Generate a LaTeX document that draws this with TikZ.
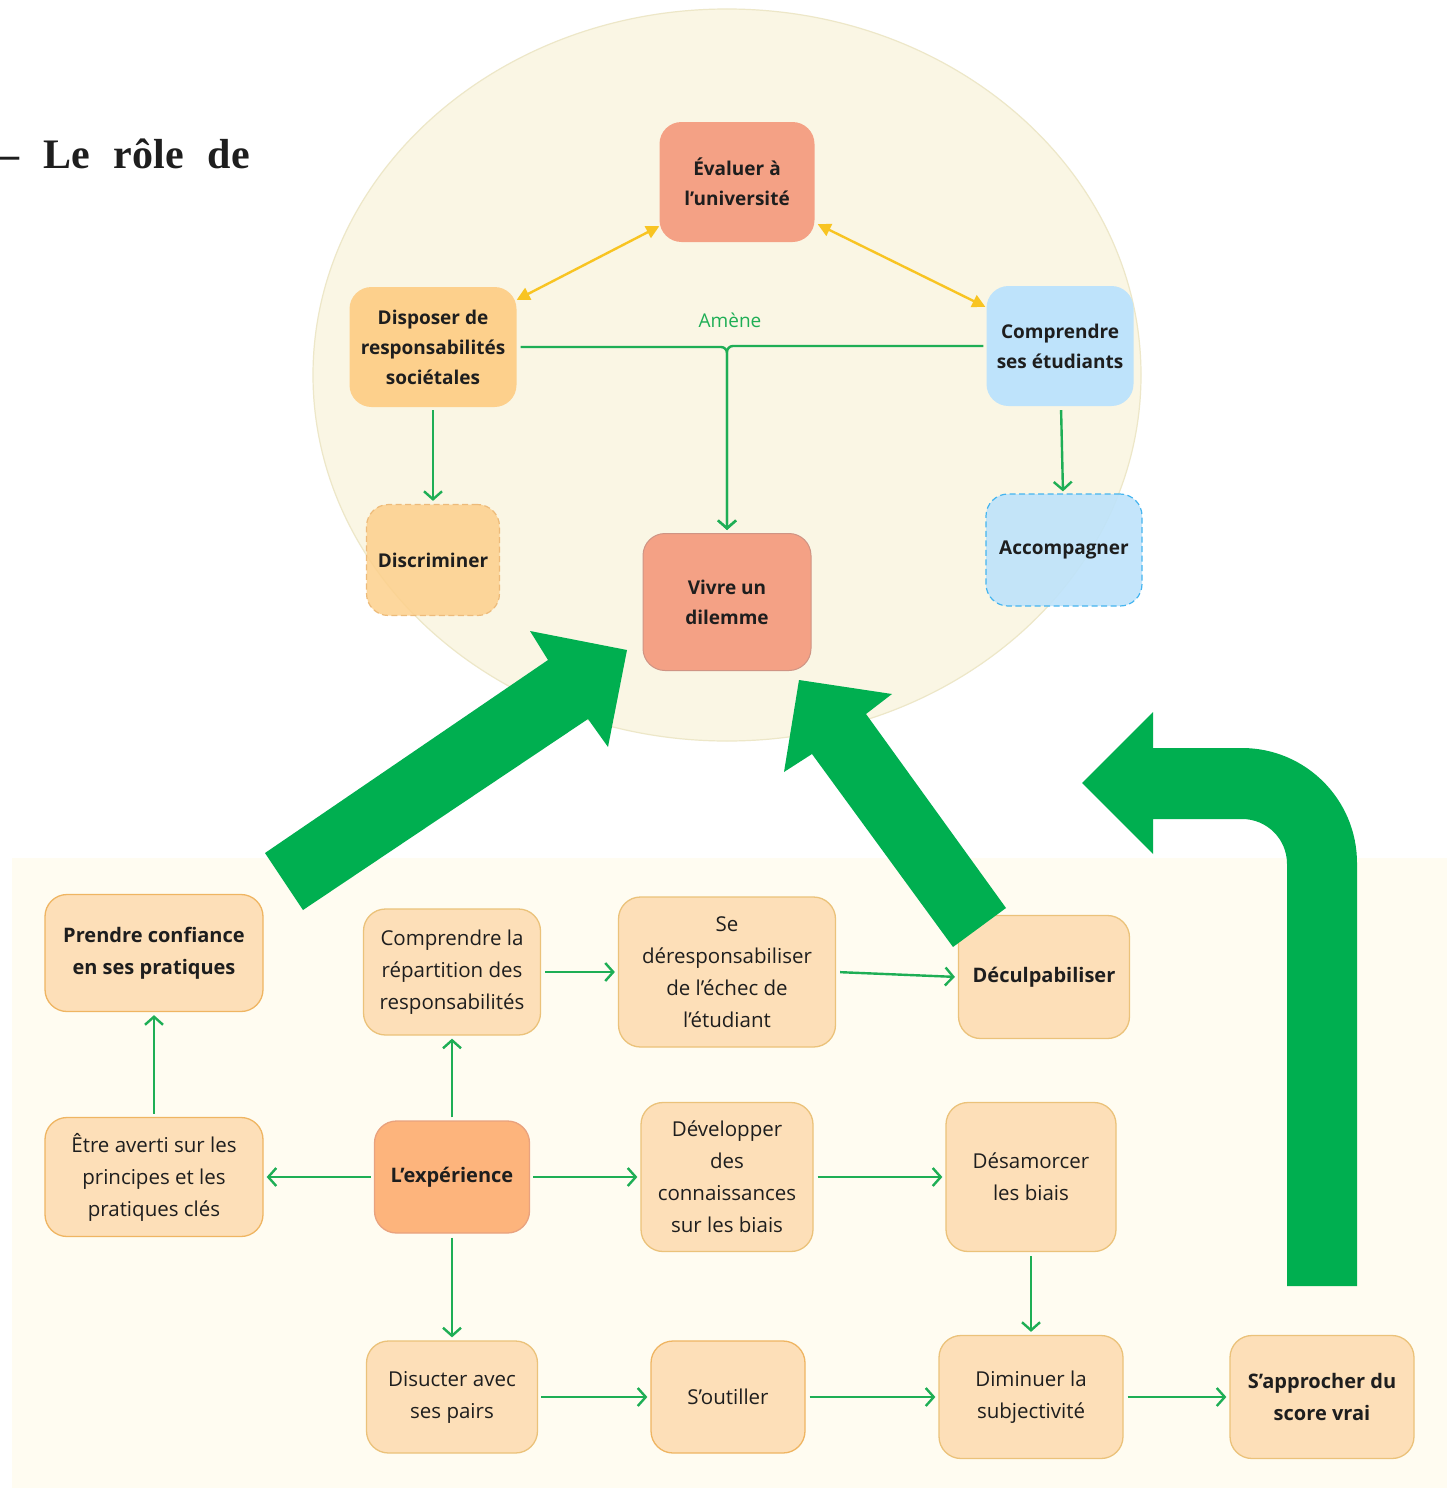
\documentclass[tikz,border=0pt]{standalone}
\usepackage{fontspec}
\setmainfont{Open Sans}
\newfontfamily\titlefont{Liberation Serif}
\usetikzlibrary{arrows.meta}

\definecolor{ink}{HTML}{1E1E1E}
\definecolor{salmon}{HTML}{F4A185}
\definecolor{salmonedge}{HTML}{CF9484}
\definecolor{apricot}{HTML}{FDD08C}
\definecolor{apricotedge}{HTML}{EDBB7A}
\definecolor{skyfill}{HTML}{BEE3FB}
\definecolor{skyedge}{HTML}{45B5F0}
\definecolor{peach}{HTML}{FDDFB8}
\definecolor{peachedge}{HTML}{EBC27A}
\definecolor{tangerine}{HTML}{FDB47C}
\definecolor{tangerineedge}{HTML}{E9A27E}
\definecolor{ovalfill}{HTML}{FAF6E4}
\definecolor{ovaledge}{HTML}{EDE7C8}
\definecolor{lowerbg}{HTML}{FFFCF1}
\definecolor{biggreen}{HTML}{00AF50}
\definecolor{linegreen}{HTML}{1EAE55}
\definecolor{gold}{HTML}{F8C422}

\tikzset{
  topbox/.style={rounded corners=22pt, align=center, text=ink,
    font=\fontsize{19}{30}\selectfont\bfseries, inner sep=0pt},
  dashedge/.style={dash pattern=on 6pt off 3.5pt, line width=1.2pt},
  lowbox/.style={rounded corners=22pt, align=center, text=ink, fill=peach,
    draw=peachedge, line width=1.3pt,
    font=\fontsize{20.5}{32}\selectfont, inner sep=0pt},
  lowbold/.style={lowbox, font=\fontsize{20}{32}\selectfont\bfseries},
  flow/.style={draw=linegreen, line width=2.4pt,
    -{Straight Barb[length=8pt,width=18pt]}},
  mutual/.style={draw=gold, line width=2.4pt,
    {Triangle[length=13pt,width=13pt]}-{Triangle[length=13pt,width=13pt]}},
  bigarrow/.style={fill=biggreen, draw=none}
}

\begin{document}
\begin{tikzpicture}[x=1pt,y=-1pt]
\useasboundingbox (0,0) rectangle (1447,1488);

% backgrounds
\fill[white] (0,0) rectangle (1447,1488);
\draw[fill=ovalfill, draw=ovaledge, line width=1.2pt] (727,375) ellipse [x radius=414, y radius=366];
\fill[lowerbg] (12,858) rectangle (1447,1488);

% heading fragment
\node[anchor=base west, inner sep=0pt, text=ink, font=\titlefont\fontsize{42}{48}\selectfont\bfseries]
  (heading) at (-2,168) {–\hspace{24pt}Le\hspace{24pt}rôle\hspace{24pt}de};

% upper cluster
\node[topbox, fill=salmon, minimum width=155pt, minimum height=120pt] (eval) at (737,182) {Évaluer à\\l’université};
\node[topbox, fill=apricot, minimum width=167pt, minimum height=120pt] (disp) at (433,347) {Disposer de\\responsabilités\\sociétales};
\node[topbox, fill=skyfill, minimum width=147pt, minimum height=120pt] (comp) at (1060,346) {Comprendre\\ses étudiants};
\node[topbox, fill=apricot, fill opacity=0.85, text opacity=1, draw=apricotedge, dashedge,
  minimum width=133pt, minimum height=111pt] (discr) at (433,560) {Discriminer};
\node[topbox, fill=salmon, draw=salmonedge, line width=1pt, minimum width=168pt, minimum height=137pt] (vivre) at (727,602) {Vivre un\\dilemme};
\node[topbox, fill=skyfill, fill opacity=0.9, text opacity=1, draw=skyedge, dashedge,
  minimum width=156pt, minimum height=112pt] (accomp) at (1064,550) {Accompagner};

\draw[mutual] ([yshift=-13pt]disp.north east) -- ([yshift=16pt]eval.south west);
\draw[mutual] ([xshift=3pt,yshift=18pt]eval.south east) -- ([xshift=-1pt,yshift=-21pt]comp.north west);

\draw[flow, rounded corners=6pt, shorten <=4pt, shorten >=3pt] (disp.east) -| (vivre.north);
\draw[flow, rounded corners=6pt, shorten <=3pt, shorten >=3pt] (comp.west) -| (vivre.north);
\node[text=linegreen, font=\fontsize{19}{22}\selectfont, inner sep=0pt] (amene) at (730,320) {Amène};

\draw[flow, shorten <=3pt, shorten >=3pt] (disp.south) -- (discr.north);
\draw[flow, shorten <=4pt, shorten >=2pt] ([xshift=1pt]comp.south) -- ([xshift=-1pt]accomp.north);

% lower flow chart
\node[lowbold, draw=peachedge!80!orange, minimum width=218pt, minimum height=117pt] (conf) at (154,953) {Prendre confiance\\en ses pratiques};
\node[lowbox, minimum width=177pt, minimum height=126pt] (repart) at (452,972) {Comprendre la\\répartition des\\responsabilités};
\node[lowbox, minimum width=217pt, minimum height=150pt] (deresp) at (727,972) {Se\\déresponsabiliser\\de l’échec de\\l’étudiant};
\node[lowbold, minimum width=171pt, minimum height=123pt] (decul) at (1044,977) {Déculpabiliser};
\node[lowbox, draw=peachedge!80!orange, minimum width=218pt, minimum height=119pt] (averti) at (154,1177) {Être averti sur les\\principes et les\\pratiques clés};
\node[lowbold, fill=tangerine, draw=tangerineedge, minimum width=155pt, minimum height=112pt] (exper) at (452,1177) {L’expérience};
\node[lowbox, minimum width=172pt, minimum height=149pt] (devel) at (727,1177) {Développer\\des\\connaissances\\sur les biais};
\node[lowbox, minimum width=170pt, minimum height=149pt] (desam) at (1031,1177) {Désamorcer\\les biais};
\node[lowbox, minimum width=171pt, minimum height=112pt] (pairs) at (452,1397) {Disucter avec\\ses pairs};
\node[lowbox, draw=peachedge!80!orange, minimum width=154pt, minimum height=112pt] (outil) at (728,1397) {S’outiller};
\node[lowbox, minimum width=184pt, minimum height=123pt] (dimin) at (1031,1397) {Diminuer la\\subjectivité};
\node[lowbold, minimum width=184pt, minimum height=123pt] (score) at (1322,1397) {S’approcher du\\score vrai};

\draw[flow, shorten <=3pt, shorten >=3pt] (averti.north) -- (conf.south);
\draw[flow, shorten <=3pt, shorten >=3pt] (exper.north) -- (repart.south);
\draw[flow, shorten <=3pt, shorten >=3pt] (exper.west) -- (averti.east);
\draw[flow, shorten <=3pt, shorten >=3pt] (exper.east) -- (devel.west);
\draw[flow, shorten <=4pt, shorten >=3pt] (exper.south) -- (pairs.north);
\draw[flow, shorten <=4pt, shorten >=3pt] (repart.east) -- (deresp.west);
\draw[flow, shorten <=4pt, shorten >=3pt] (deresp.east) -- (decul.west);
\draw[flow, shorten <=4pt, shorten >=3pt] (devel.east) -- (desam.west);
\draw[flow, shorten <=4pt, shorten >=3pt] (desam.south) -- (dimin.north);
\draw[flow, shorten <=3pt, shorten >=3pt] (pairs.east) -- (outil.west);
\draw[flow, shorten <=4pt, shorten >=3pt] (outil.east) -- (dimin.west);
\draw[flow, shorten <=4pt, shorten >=3pt] (dimin.east) -- (score.west);

% broad arrows linking the two parts
\fill[bigarrow] (265,853) -- (548,660) -- (530,631) -- (627,650) -- (608,747) -- (588,719) -- (303,910) -- cycle;
\fill[bigarrow] (953,947) -- (812,754) -- (784,772) -- (799,680) -- (892,694) -- (866,714) -- (1006,908) -- cycle;
\fill[bigarrow] (1287,1286) -- (1357,1286) -- (1357,863)
  .. controls (1357,799.5) and (1305.5,748) .. (1242,748)
  -- (1153,748) -- (1153,712) -- (1082,783) -- (1153,854) -- (1153,819) -- (1242,819)
  .. controls (1267,819) and (1287,839) .. (1287,864) -- cycle;
\end{tikzpicture}
\end{document}
